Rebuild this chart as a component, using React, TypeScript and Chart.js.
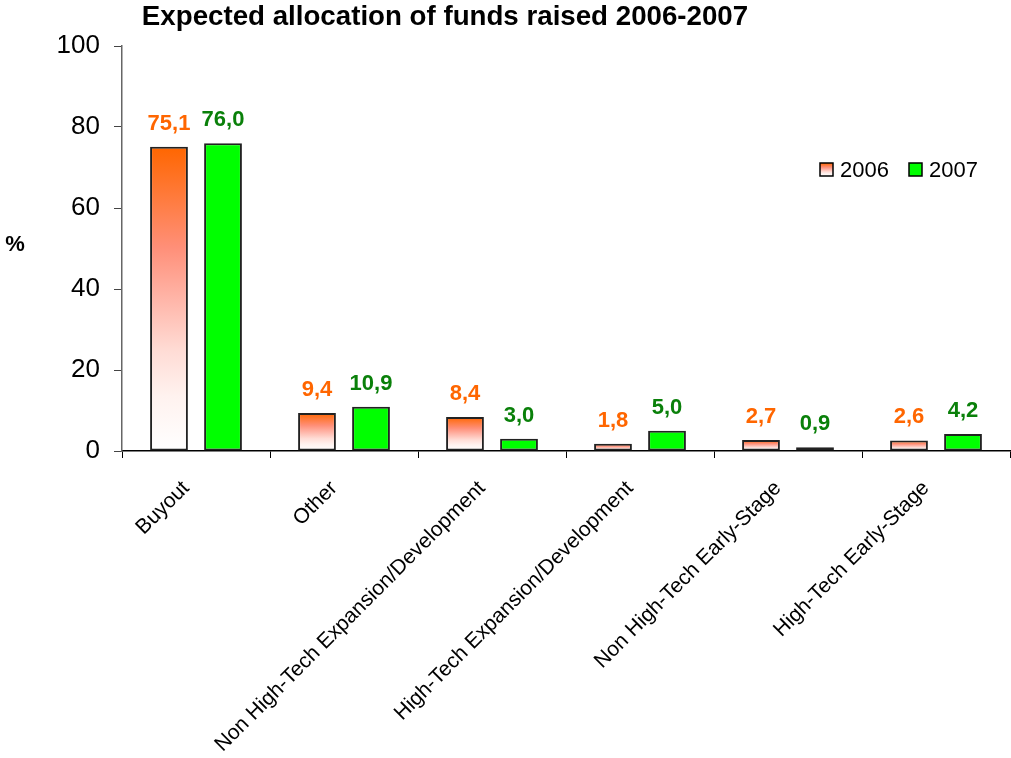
import React, { useEffect, useRef } from "react";
import { Chart, registerables } from "chart.js";

Chart.register(...registerables);

const categories = [
  "Buyout",
  "Other",
  "Non High-Tech Expansion/Development",
  "High-Tech Expansion/Development",
  "Non High-Tech Early-Stage",
  "High-Tech Early-Stage",
];
const values2006 = [75.1, 9.4, 8.4, 1.8, 2.7, 2.6];
const values2007 = [76.0, 10.9, 3.0, 5.0, 0.9, 4.2];
const seriesNames = ["2006", "2007"];
const yTicks = [0, 20, 40, 60, 80, 100];

const ORANGE = "#FF6600";
const GREEN = "#00FF00";
const ORANGE_TEXT = "#FF6600";
const GREEN_TEXT = "#0A800A";
const FONT = "Liberation Sans, Arial, sans-serif";

function orangeGradient(ctx: CanvasRenderingContext2D, top: number, bottom: number) {
  const g = ctx.createLinearGradient(0, top, 0, bottom);
  g.addColorStop(0, "#FF6600");
  g.addColorStop(0.33, "#FF8F78");
  g.addColorStop(0.5, "#FFB5A8");
  g.addColorStop(0.67, "#FFDCD5");
  g.addColorStop(0.82, "#FFF2EF");
  g.addColorStop(1, "#FFFFFF");
  return g;
}

const fmt = (v: number) => v.toFixed(1).replace(".", ",");

const overlayPlugin = {
  id: "overlay",
  afterDatasetsDraw(chart: any) {
    const ctx: CanvasRenderingContext2D = chart.ctx;
    ctx.save();
    // data labels
    chart.data.datasets.forEach((ds: any, di: number) => {
      const meta = chart.getDatasetMeta(di);
      ctx.font = `bold 22px ${FONT}`;
      ctx.fillStyle = di === 0 ? ORANGE_TEXT : GREEN_TEXT;
      ctx.textAlign = "center";
      ctx.textBaseline = "alphabetic";
      meta.data.forEach((bar: any, i: number) => {
        ctx.fillText(fmt(ds.data[i]), bar.x, bar.y - 17);
      });
    });
    // title
    ctx.fillStyle = "#000";
    ctx.font = `bold 27.7px ${FONT}`;
    ctx.textAlign = "center";
    ctx.textBaseline = "middle";
    ctx.fillText("Expected allocation of funds raised 2006-2007", 445, 17);
    // y axis title
    ctx.font = `bold 22px ${FONT}`;
    ctx.fillText("%", 15, 245);
    // legend
    ctx.font = `22px ${FONT}`;
    ctx.textAlign = "left";
    const items = [
      { x: 820, label: seriesNames[0], fill: orangeGradient(ctx, 163, 176) as any },
      { x: 909, label: seriesNames[1], fill: GREEN as any },
    ];
    items.forEach((it) => {
      ctx.fillStyle = it.fill;
      ctx.fillRect(it.x, 163, 13, 13);
      ctx.strokeStyle = "#000";
      ctx.lineWidth = 1.5;
      ctx.strokeRect(it.x, 163, 13, 13);
      ctx.fillStyle = "#000";
      ctx.fillText(it.label, it.x + 20, 171);
    });
    ctx.restore();
  },
};

export default function App() {
  const ref = useRef<HTMLCanvasElement>(null);
  useEffect(() => {
    if (!ref.current) return;
    const chart = new Chart(ref.current, {
      type: "bar",
      data: {
        labels: categories,
        datasets: [
          {
            label: seriesNames[0],
            data: values2006,
            backgroundColor: (c: any) => {
              const ch = c.chart;
              if (!ch.chartArea || c.type !== "data") return ORANGE;
              const y = ch.scales.y;
              const top = y.getPixelForValue(c.raw);
              const base = y.getPixelForValue(0);
              return orangeGradient(ch.ctx, top, base);
            },
            borderColor: "#222",
            borderWidth: 2,
            borderSkipped: false,
            categoryPercentage: 0.73,
            barPercentage: 0.7,
          },
          {
            label: seriesNames[1],
            data: values2007,
            backgroundColor: GREEN,
            borderColor: "#222",
            borderWidth: 2,
            borderSkipped: false,
            categoryPercentage: 0.73,
            barPercentage: 0.7,
          },
        ],
      },
      options: {
        animation: false,
        responsive: false,
        maintainAspectRatio: false,
        layout: { padding: { top: 46, right: 1, left: 0, bottom: 0 } },
        plugins: {
          legend: { display: false },
          title: { display: false },
          tooltip: { enabled: false },
        },
        scales: {
          x: {
            offset: true,
            grid: {
              display: true,
              drawOnChartArea: false,
              offset: true,
              tickLength: 7,
              color: "#000",
              lineWidth: 1,
            },
            border: { color: "#000", width: 1.5 },
            ticks: {
              minRotation: 45,
              maxRotation: 45,
              autoSkip: false,
              padding: 18,
              labelOffset: -10,
              color: "#000",
              font: { family: FONT, size: 21 },
            },
            afterFit: (s: any) => {
              s.height = 307;
            },
          },
          y: {
            min: 0,
            max: 100,
            afterBuildTicks: (s: any) => {
              s.ticks = yTicks.map((v) => ({ value: v }));
            },
            grid: {
              drawOnChartArea: false,
              tickLength: 8,
              color: "#444",
              lineWidth: 1,
            },
            border: { color: "#666", width: 1.5 },
            ticks: {
              padding: 14,
              color: "#000",
              font: { family: FONT, size: 26 },
            },
            afterFit: (s: any) => {
              s.width = 122;
            },
          },
        },
      },
      plugins: [overlayPlugin],
    });
    return () => chart.destroy();
  }, []);
  return (
    <div style={{ position: "fixed", left: 0, top: 0, width: 1011, height: 758, background: "#fff" }}>
      <canvas ref={ref} width={1011} height={758} style={{ width: 1011, height: 758 }} />
    </div>
  );
}
